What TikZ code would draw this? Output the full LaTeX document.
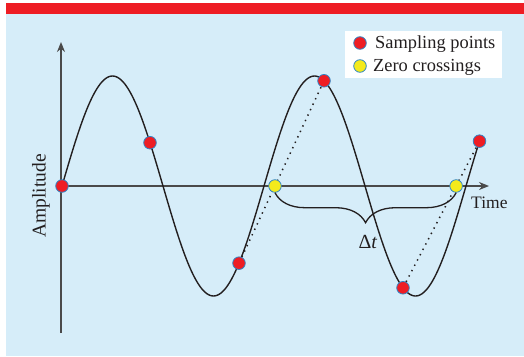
\documentclass[tikz,border=0pt]{standalone}
\usepackage{fontspec}
\setmainfont{Liberation Serif}
\usetikzlibrary{arrows.meta,decorations.pathreplacing}
\definecolor{bgblue}{HTML}{D6EDF9}
\definecolor{bandred}{HTML}{EE1D24}
\definecolor{ptred}{HTML}{EE1D24}
\definecolor{ptyellow}{HTML}{F4EA1C}
\definecolor{ptedge}{HTML}{2E86C8}
\definecolor{axisgray}{HTML}{4A4A4A}
\definecolor{curveblack}{HTML}{231F20}
\tikzset{
  axisline/.style={draw=axisgray,line width=1.3pt,-{Stealth[length=10pt,width=8pt]}},
  curveline/.style={draw=curveblack,line width=1.4pt},
  dotline/.style={draw=curveblack,line width=1.5pt,dash pattern=on 1.4pt off 4.6pt},
  samp/.style={circle,fill=ptred,draw=ptedge,line width=0.8pt,minimum size=12.6pt,inner sep=0pt},
  zero/.style={circle,fill=ptyellow,draw=ptedge,line width=0.8pt,minimum size=12.6pt,inner sep=0pt},
  bracestyle/.style={draw=curveblack,line width=1.3pt,decorate,decoration={brace,mirror,amplitude=30pt}},
  lbl/.style={font=\fontsize{18.4}{21}\selectfont,text=curveblack,inner sep=0pt},
}
\newcommand\wavy[1]{186-110*sin(1.7821782*(#1-62))}
\begin{document}
\begin{tikzpicture}[x=1pt,y=-1pt]
\useasboundingbox (0,0) rectangle (524,356);
\fill[bandred] (6,3) rectangle (524,14);
\fill[bgblue] (6,14) rectangle (524,356);
% axes
\coordinate (yb) at (61,333);
\coordinate (yt) at (61,42);
\coordinate (x0) at (61,186);
\coordinate (x1) at (489,186);
\draw[axisline] (yb) -- (yt);
\draw[axisline] (x0) -- (x1);
% curve
\draw[curveline] plot[domain=62:479.5,samples=240,smooth] (\x,{\wavy{\x}});
% sample points
\coordinate (c1) at (62,{\wavy{62}});
\coordinate (c2) at (150,{\wavy{150}});
\coordinate (c3) at (239,{\wavy{239}});
\coordinate (c4) at (324,{\wavy{324}});
\coordinate (c5) at (403,{\wavy{403}});
\coordinate (c6) at (479.5,{\wavy{479.5}});
\foreach \i in {1,...,6} \node[samp] (s\i) at (c\i) {};
\draw[dotline] (s3) -- (s4);
\draw[dotline] (s5) -- (s6);
\node[zero] (z1) at (intersection of c3--c4 and x0--x1) {};
\node[zero] (z2) at (intersection of c5--c6 and x0--x1) {};
% brace
\draw[bracestyle] (z1.south) -- (z2.south);
\node[lbl,font=\fontsize{20}{23}\selectfont] (dt) at (368,242) {Δ\textit{t}};
% labels
\node[lbl,font=\fontsize{19.5}{22}\selectfont,rotate=90] (amp) at (41,196) {Amplitude};
\node[lbl,font=\fontsize{17.5}{20}\selectfont,anchor=base west] (time) at (471,208) {Time};
% legend
\node[fill=white,minimum width=157pt,minimum height=47pt,inner sep=0pt,anchor=north west] (legend) at (345,31) {};
\node[samp] (ls) at (360,43) {};
\node[zero] (lz) at (360,66) {};
\node[lbl,anchor=base west] (lst) at (375,48.5) {Sampling points};
\node[lbl,anchor=base west] (lzt) at (373,71) {Zero crossings};
\end{tikzpicture}
\end{document}
